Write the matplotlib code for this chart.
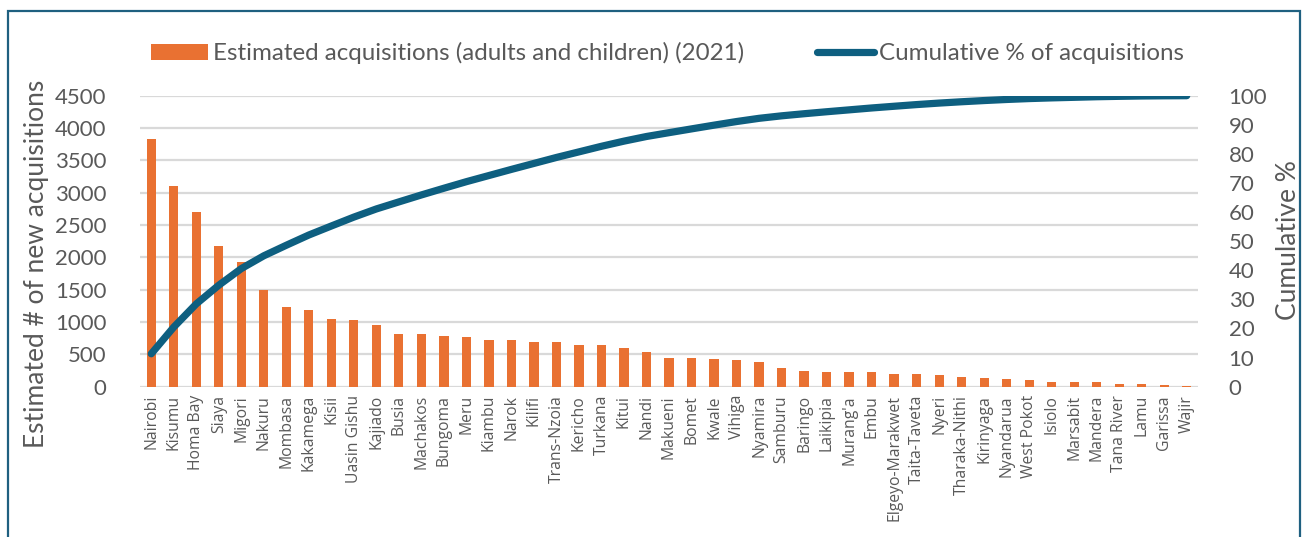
import numpy as np
import matplotlib
matplotlib.use("Agg")
import matplotlib.pyplot as plt
from matplotlib.patches import Rectangle

counties = ["Nairobi", "Kisumu", "Homa Bay", "Siaya", "Migori", "Nakuru", "Mombasa",
            "Kakamega", "Kisii", "Uasin Gishu", "Kajiado", "Busia", "Machakos", "Bungoma",
            "Meru", "Kiambu", "Narok", "Kilifi", "Trans-Nzoia", "Kericho", "Turkana",
            "Kitui", "Nandi", "Makueni", "Bomet", "Kwale", "Vihiga", "Nyamira", "Samburu",
            "Baringo", "Laikipia", "Murang'a", "Embu", "Elgeyo-Marakwet", "Taita-Taveta",
            "Nyeri", "Tharaka-Nithi", "Kirinyaga", "Nyandarua", "West Pokot", "Isiolo",
            "Marsabit", "Mandera", "Tana River", "Lamu", "Garissa", "Wajir"]

acquisitions = [3830, 3110, 2700, 2175, 1935, 1490, 1230, 1190, 1050, 1035, 950, 820,
                810, 780, 765, 715, 715, 695, 695, 650, 650, 600, 540, 445, 440, 435,
                420, 375, 290, 245, 230, 220, 220, 200, 195, 175, 155, 140, 125, 105,
                80, 67, 67, 47, 40, 22, 12]

left_ticks = [0, 500, 1000, 1500, 2000, 2500, 3000, 3500, 4000, 4500]
right_ticks = [0, 10, 20, 30, 40, 50, 60, 70, 80, 90, 100]

# cumulative share of all acquisitions, county by county
cum_pct = np.cumsum(acquisitions) / np.sum(acquisitions) * 100

ORANGE = "#E97132"
TEAL = "#0E5F80"
GREY = "#595959"
GRID = "#D9D9D9"
NUM_FONT = "Lato"
LBL_FONT = "Open Sans"

fig = plt.figure(figsize=(13.06, 5.37), dpi=100)
ax = fig.add_axes([0.1072, 0.2799, 0.8101, 0.5419])
ax2 = ax.twinx()

x = np.arange(len(counties))
bars = ax.bar(x, acquisitions, width=0.41, color=ORANGE, zorder=2,
              label="Estimated acquisitions (adults and children) (2021)")
line, = ax2.plot(x, cum_pct, color=TEAL, lw=5.2, solid_capstyle="round",
                 solid_joinstyle="round", label="Cumulative % of acquisitions")

ax.set_xlim(-0.5, len(counties) - 0.5)
ax.set_ylim(0, 4500)
ax2.set_ylim(0, 100)
ax.set_yticks(left_ticks)
ax2.set_yticks(right_ticks)

for t in left_ticks:
    ax.axhline(t, color=GRID, lw=1.6, zorder=0)

ax.set_xticks(x)
ax.set_xticklabels(counties, rotation=90, fontsize=11.3, family=LBL_FONT, color=GREY)
for a in (ax, ax2):
    a.tick_params(length=0)
    for s in a.spines.values():
        s.set_visible(False)
ax.tick_params(axis="x", pad=6)
ax.tick_params(axis="y", pad=24)
ax2.tick_params(axis="y", pad=22)
for lab in ax.get_yticklabels():
    lab.set_family(NUM_FONT); lab.set_fontsize(16); lab.set_color(GREY)
for lab in ax2.get_yticklabels():
    lab.set_family(NUM_FONT); lab.set_fontsize(16); lab.set_color(GREY)

# axis titles
fig.text(37 / 1306, 1 - 264 / 537, "Estimated # of new acquisitions", rotation=90,
         ha="center", va="center", family=NUM_FONT, fontsize=19, color=GREY)
fig.text(1288 / 1306, 1 - 240 / 537, "Cumulative %", rotation=90,
         ha="center", va="center", family=NUM_FONT, fontsize=19, color=GREY)

fig.legend(handles=[bars, line], loc="center", bbox_to_anchor=(0.511, 0.901),
           ncol=2, frameon=False, prop={"family": NUM_FONT, "size": 17.4},
           labelcolor=GREY, handlelength=2.36, handleheight=0.62,
           handletextpad=0.2, columnspacing=3.0)

# outer frame
fig.patches.append(Rectangle((8 / 1306, -0.1), 1292 / 1306, 1.1 - 11.5 / 537,
                             transform=fig.transFigure, fill=False,
                             edgecolor="#1F6080", lw=1.6))

fig.savefig("out.png", dpi=100)
